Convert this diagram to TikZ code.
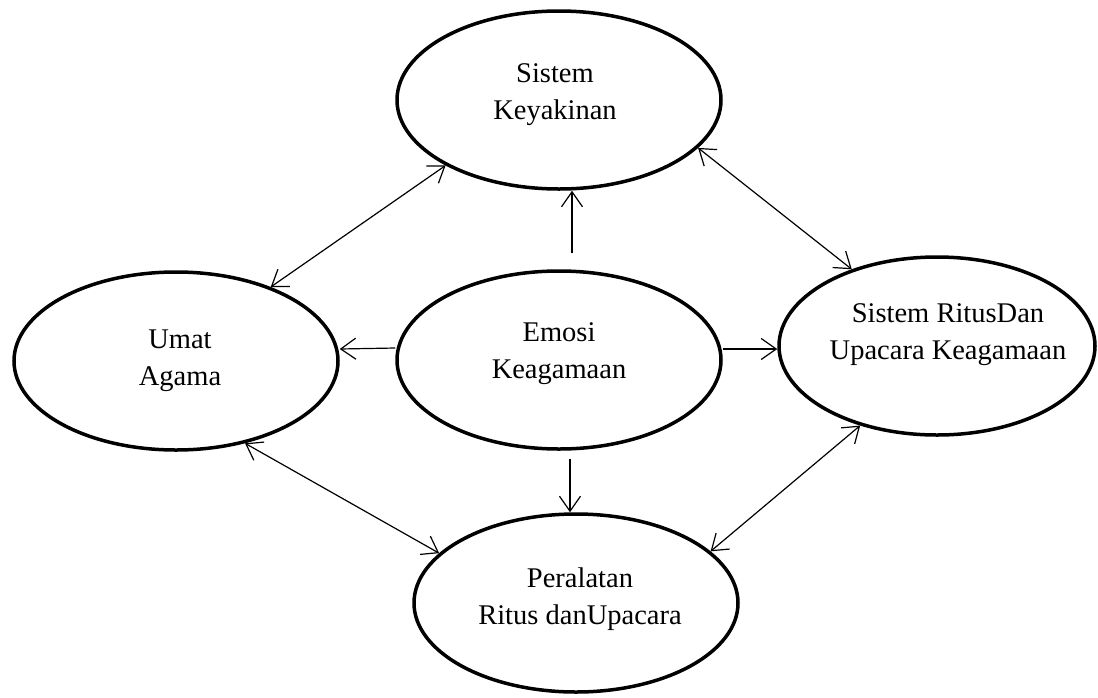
\documentclass[tikz,border=0pt]{standalone}
\usepackage{fontspec}
\setmainfont{Liberation Serif}
\usetikzlibrary{arrows.meta,shapes.geometric}
\tikzset{>/.tip={Straight Barb[length=15pt,width=21pt]},
  elips/.style={ellipse, draw, line width=3.5pt, minimum width=324pt, minimum height=178pt,
    inner sep=0pt, inner xsep=-30pt, font=\fontsize{28.5}{37}\selectfont},
  panah/.style={line width=1.2pt}}
% teks dua baris, dinaikkan sedikit dari pusat elips
\newcommand{\teks}[2]{\raisebox{#1}[0pt][0pt]{\begin{tabular}{@{}c@{}}#2\end{tabular}}}

\begin{document}
\begin{tikzpicture}[x=1pt,y=-1pt]
\useasboundingbox (0,0) rectangle (1098,697);
\node[elips] (keyakinan) at (559,100) {\hspace*{-8pt}\teks{0.5pt}{Sistem\\Keyakinan}};
\node[elips] (umat) at (176,361) {\hspace*{8pt}\teks{-4.5pt}{Umat\\Agama}};
\node[elips] (emosi) at (559,360) {\teks{1.5pt}{Emosi\\Keagamaan}};
\node[elips, minimum width=316pt] (ritus) at (937,346) {\hspace*{22pt}\teks{6.5pt}{Sistem RitusDan\\Upacara Keagamaan}};
\node[elips] (peralatan) at (576,603) {\hspace*{8pt}\teks{-1.5pt}{Peralatan\\Ritus danUpacara}};

\path[panah,<->] (umat.38.4) edge (keyakinan.210.8);
\path[panah,->,shorten <=16pt] ([xshift=13pt]emosi.north) edge ([xshift=13pt]keyakinan.south);
\path[panah,<->] (keyakinan.341.2) edge (ritus.138.1);
\path[panah,->] ([yshift=12pt]emosi.west) edge ([yshift=12pt]umat.east);
\path[panah,->] ([yshift=11pt]emosi.east) edge ([yshift=-3pt]ritus.west);
\path[panah,->,shorten <=8pt] ([xshift=11pt]emosi.south) edge ([xshift=-6pt]peralatan.north);
\path[panah,<->] (umat.310.2) edge (peralatan.160.7);
\path[panah,<->] (ritus.226.6) edge (peralatan.21.2);
\end{tikzpicture}
\end{document}
